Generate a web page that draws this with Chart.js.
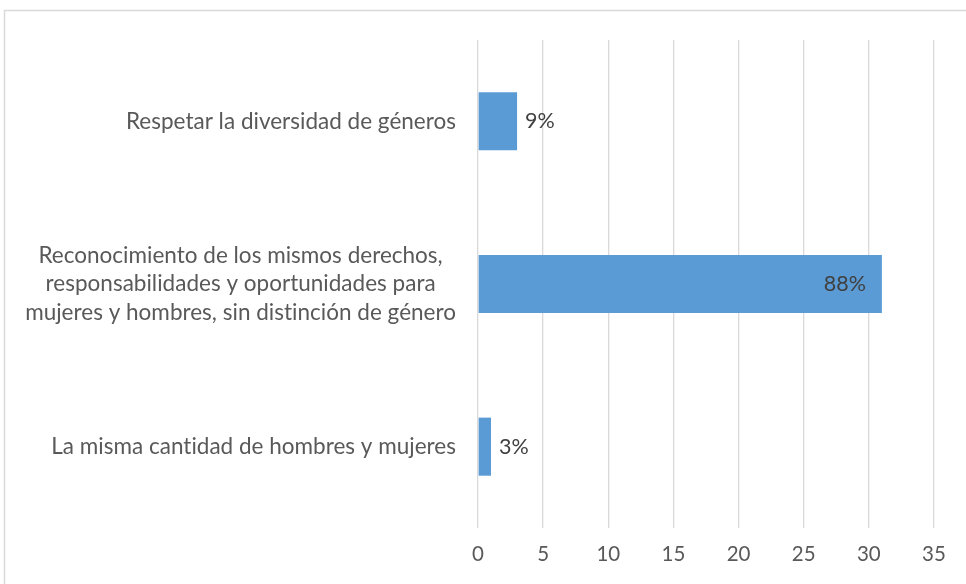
<!DOCTYPE html>
<html>
<head>
<meta charset="utf-8">
<script src="https://cdn.jsdelivr.net/npm/chart.js@4.4.1/dist/chart.umd.min.js"></script>
<style>
  html, body { margin: 0; padding: 0; background: #ffffff; overflow: hidden; }
  #wrap { position: relative; width: 966px; height: 584px; }
</style>
</head>
<body>
<div id="wrap"><canvas id="chart" width="966" height="584"></canvas></div>
<script>
// Answer options (top to bottom); the long one is split over three lines
const categories = [
  'Respetar la diversidad de géneros',
  ['Reconocimiento de los mismos derechos,',
   'responsabilidades y oportunidades para',
   'mujeres y hombres, sin distinción de género'],
  'La misma cantidad de hombres y mujeres'
];
// Number of responses for each option
const responses = [3, 31, 1];
// Share of responses printed beside each bar
const shareLabels = ['9%', '88%', '3%'];
// Value axis ticks
const axisTicks = [0, 5, 10, 15, 20, 25, 30, 35];

const FONT = 'Lato, "Open Sans", sans-serif';
const TEXT = '#595959';
const GRID = '#d9d9d9';

// Outer frame of the chart box
const framePlugin = {
  id: 'frame',
  beforeDraw(chart) {
    const ctx = chart.ctx;
    ctx.save();
    ctx.fillStyle = '#ffffff';
    ctx.fillRect(0, 0, chart.width, chart.height);
    ctx.strokeStyle = GRID;
    ctx.lineWidth = 1.5;
    ctx.strokeRect(4.5, 10.5, chart.width + 50, chart.height + 50);
    ctx.restore();
  }
};

// Category names, right-aligned block with centred lines
const categoryLabelPlugin = {
  id: 'categoryLabels',
  afterDraw(chart) {
    const ctx = chart.ctx;
    const yScale = chart.scales.y;
    const right = chart.chartArea.left - 22;
    const lineHeight = 28.5;
    ctx.save();
    ctx.font = '22.5px ' + FONT;
    ctx.letterSpacing = '0.01px';
    ctx.fillStyle = TEXT;
    ctx.textAlign = 'center';
    ctx.textBaseline = 'middle';
    categories.forEach((cat, i) => {
      const lines = Array.isArray(cat) ? cat : [cat];
      const blockW = Math.max(...lines.map(l => ctx.measureText(l).width));
      const cx = right - blockW / 2;
      const cy = yScale.getPixelForValue(i);
      lines.forEach((line, j) => {
        ctx.fillText(line, cx, cy + (j - (lines.length - 1) / 2) * lineHeight);
      });
    });
    ctx.restore();
  }
};

// Percentage labels at the end of each bar (inside when the bar is long)
const shareLabelPlugin = {
  id: 'shareLabels',
  afterDatasetsDraw(chart) {
    const ctx = chart.ctx;
    const meta = chart.getDatasetMeta(0);
    ctx.save();
    ctx.font = '21.5px ' + FONT;
    ctx.fillStyle = '#404040';
    ctx.textBaseline = 'middle';
    meta.data.forEach((bar, i) => {
      const len = bar.x - bar.base;
      if (len > 100) {
        ctx.textAlign = 'right';
        ctx.fillText(shareLabels[i], bar.x - 16, bar.y);
      } else {
        ctx.textAlign = 'left';
        ctx.fillText(shareLabels[i], bar.x + 8, bar.y);
      }
    });
    ctx.restore();
  }
};

new Chart(document.getElementById('chart'), {
  type: 'bar',
  data: {
    labels: categories,
    datasets: [{
      data: responses,
      backgroundColor: '#5b9bd5',
      borderWidth: 0,
      categoryPercentage: 1,
      barPercentage: 0.357
    }]
  },
  options: {
    indexAxis: 'y',
    responsive: false,
    animation: false,
    layout: { padding: { top: 40, right: 32, left: 0, bottom: 0 } },
    plugins: { legend: { display: false }, tooltip: { enabled: false } },
    scales: {
      x: {
        min: 0,
        max: 35,
        afterBuildTicks(scale) { scale.ticks = axisTicks.map(v => ({ value: v })); },
        afterFit(scale) { scale.height = 56; },
        grid: { color: GRID, lineWidth: 1.3, drawTicks: false },
        border: { display: false },
        ticks: { color: TEXT, font: { family: FONT, size: 20.5 }, padding: 14 }
      },
      y: {
        afterFit(scale) { scale.width = 478; },
        grid: { display: false, drawTicks: false },
        border: { display: false },
        ticks: { display: false }
      }
    }
  },
  plugins: [framePlugin, categoryLabelPlugin, shareLabelPlugin]
});
</script>
</body>
</html>
